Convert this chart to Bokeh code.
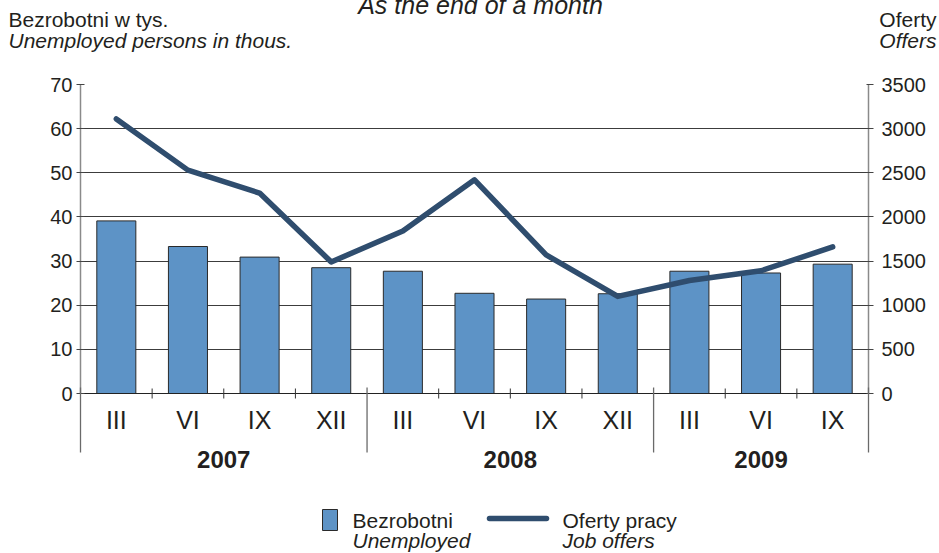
from bokeh.plotting import figure
from bokeh.models import Range1d, LinearAxis, FixedTicker
from bokeh.core.properties import value
from bokeh.embed import file_html
from bokeh.resources import INLINE

# ---- data ----
years = ["2007", "2008", "2009"]
year_sizes = [4, 4, 3]
months = ["III", "VI", "IX", "XII", "III", "VI", "IX", "XII", "III", "VI", "IX"]
unemployed = [39.1, 33.3, 30.9, 28.5, 27.7, 22.7, 21.4, 22.6, 27.7, 27.3, 29.3]
job_offers = [3110, 2530, 2270, 1490, 1840, 2420, 1570, 1100, 1280, 1390, 1660]
left_ticks = [0, 10, 20, 30, 40, 50, 60, 70]
right_ticks = [0, 500, 1000, 1500, 2000, 2500, 3000, 3500]

title_en = "As the end of a month"
left_title = ["Bezrobotni w tys.", "Unemployed persons in thous."]
right_title = ["Oferty", "Offers"]
legend_bar = ["Bezrobotni", "Unemployed"]
legend_line = ["Oferty pracy", "Job offers"]

# ---- style ----
W, H = 939, 553
PL, PR, PT, PB = 80, 868, 84, 393   # frame edges in picture pixels
BAR_FILL = "#5d93c6"
BAR_LINE = "#2a2a2a"
LINE_COLOR = "#2f4d6e"
TXT = "#231f20"
FONT = "Liberation Sans"

n = len(months)
xs = list(range(n))

p = figure(width=W, height=H, output_backend="svg", toolbar_location=None,
           x_range=Range1d(-0.5, n - 0.5), y_range=Range1d(left_ticks[0], left_ticks[-1]),
           min_border_left=PL, min_border_right=W - PR, min_border_top=PT,
           min_border_bottom=H - PB, outline_line_color=None,
           background_fill_color="white", border_fill_color="white")
p.extra_y_ranges = {"offers": Range1d(right_ticks[0], right_ticks[-1])}

def X(px):
    return (px - PL) / ((PR - PL) / n) - 0.5

def Y(py):
    return (PB - py) / ((PB - PT) / (left_ticks[-1] - left_ticks[0]))

# grid
p.xgrid.visible = False
p.ygrid.ticker = FixedTicker(ticks=left_ticks)
p.ygrid.grid_line_color = "#3c3c3c"
p.ygrid.grid_line_width = 1

# left axis
ya = p.yaxis[0]
ya.ticker = FixedTicker(ticks=left_ticks)
ya.axis_line_color = "#8a8a8a"
ya.axis_line_width = 1.5
ya.major_tick_in = 4
ya.major_tick_out = 4
ya.major_tick_line_color = "#444444"
ya.minor_tick_line_color = None
ya.major_label_standoff = 4
ya.major_label_text_font = FONT
ya.major_label_text_font_size = "20px"
ya.major_label_text_color = TXT

# right axis
ra = LinearAxis(y_range_name="offers", ticker=FixedTicker(ticks=right_ticks))
ra.axis_line_color = "#8a8a8a"
ra.axis_line_width = 1.5
ra.major_tick_in = 2
ra.major_tick_out = 5
ra.major_tick_line_color = "#444444"
ra.minor_tick_line_color = None
ra.major_label_standoff = 8
ra.major_label_text_font = FONT
ra.major_label_text_font_size = "20px"
ra.major_label_text_color = TXT
p.add_layout(ra, "right")

# bottom axis: months
xa = p.xaxis[0]
xa.ticker = FixedTicker(ticks=xs)
xa.major_label_overrides = {i: m for i, m in enumerate(months)}
xa.axis_line_color = "#222222"
xa.axis_line_width = 1
xa.major_tick_line_color = None
xa.minor_tick_line_color = None
xa.major_label_standoff = 6
xa.major_label_text_font = FONT
xa.major_label_text_font_size = "25px"
xa.major_label_text_color = TXT

# bottom axis 2: years
centers = []
start = 0
for s in year_sizes:
    centers.append(start + (s - 1) / 2)
    start += s
ya2 = LinearAxis(ticker=FixedTicker(ticks=centers))
ya2.major_label_overrides = {c: y for c, y in zip(centers, years)}
ya2.axis_line_color = None
ya2.major_tick_line_color = None
ya2.minor_tick_line_color = None
ya2.major_label_standoff = 8
ya2.major_label_text_font = FONT
ya2.major_label_text_font_style = "bold"
ya2.major_label_text_font_size = "24px"
ya2.major_label_text_color = TXT
p.add_layout(ya2, "below")

# bars and line
p.vbar(x=xs, top=unemployed, width=0.545, fill_color=BAR_FILL, line_color=BAR_LINE, line_width=1)
p.line(x=xs, y=job_offers, y_range_name="offers", line_color=LINE_COLOR, line_width=5.5,
       line_cap="round", line_join="round")

# category boundary ticks and group separators
bounds = []
start = 0
for s in year_sizes:
    for k in range(1, s):
        bounds.append(start + k - 0.5)
    start += s
p.segment(x0=bounds, y0=[Y(388)] * len(bounds), x1=bounds, y1=[Y(398)] * len(bounds),
          line_color="#333333", line_width=1, level="overlay")
seps = [-0.5]
start = 0
for s in year_sizes:
    start += s
    seps.append(start - 0.5)
p.segment(x0=seps, y0=[Y(387)] * len(seps), x1=seps, y1=[Y(452)] * len(seps),
          line_color="#6a6a6a", line_width=1.3, level="overlay")

# legend (manual)
p.quad(left=[X(322)], right=[X(337)], top=[Y(509)], bottom=[Y(530)],
       fill_color=BAR_FILL, line_color=BAR_LINE, line_width=1, level="overlay")
p.line(x=[X(489), X(546)], y=[Y(518), Y(518)], line_color=LINE_COLOR, line_width=5.5,
       line_cap="round", level="overlay")

def lab(px, py, text, align="left", style="normal", size="21px"):
    p.text(x=[X(px)], y=[Y(py)], text=[text], text_align=align,
           text_baseline="alphabetic", text_font=value(FONT),
           text_font_style=style, text_font_size=value(size), text_color=TXT,
           level="overlay")

lab(352, 520, legend_bar[0])
lab(352, 540, legend_bar[1], style="italic")
lab(562, 520, legend_line[0])
lab(562, 540, legend_line[1], style="italic")

lab(8, 19, left_title[0])
lab(8, 40, left_title[1], style="italic")
lab(936, 19, right_title[0], align="right")
lab(936, 40, right_title[1], align="right", style="italic")
lab(480, 4, title_en, align="center", style="italic", size="25px")

open("out.html", "w").write(file_html(p, INLINE))
